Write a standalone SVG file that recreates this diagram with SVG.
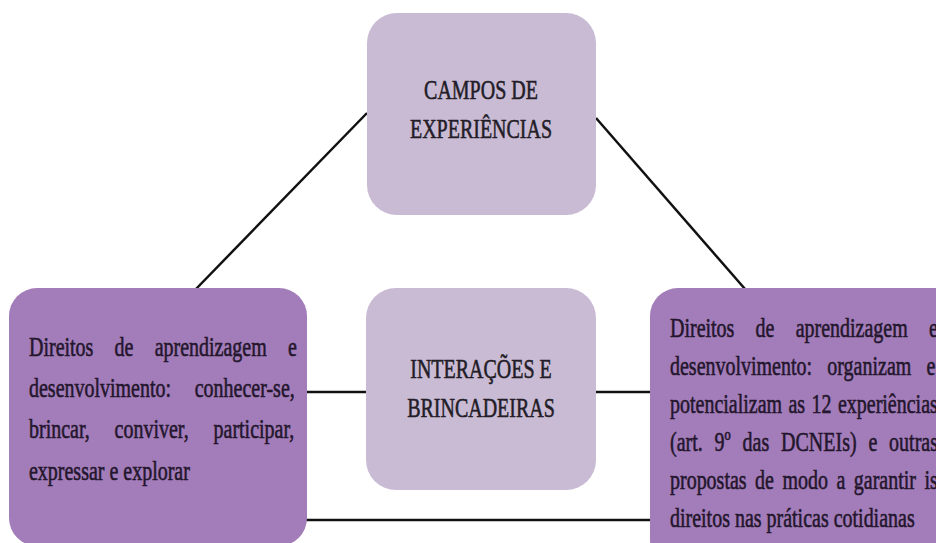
<svg xmlns="http://www.w3.org/2000/svg" width="936" height="543" viewBox="0 0 936 543">
  <style>
    .light { fill: #cabbd4; }
    .dark { fill: #a37dba; }
    .conn { stroke: #111111; stroke-width: 2.5; fill: none; }
    .t { font-family: "Liberation Serif", "Times New Roman", serif; font-size: 28px; fill: #24162d; stroke: #24162d; stroke-width: 0.6px; }
    .title { font-family: "Liberation Serif", "Times New Roman", serif; font-size: 28px; fill: #231d28; stroke: #231d28; stroke-width: 0.6px; text-anchor: middle; }
  </style>
  <rect x="0" y="0" width="936" height="543" fill="#ffffff"/>
  <g id="connectors">
    <line class="conn" x1="196" y1="289" x2="367" y2="113"/>
    <line class="conn" x1="596" y1="118" x2="745" y2="289"/>
    <line class="conn" x1="305" y1="392" x2="368" y2="392"/>
    <line class="conn" x1="595" y1="392" x2="652" y2="392"/>
    <line class="conn" x1="305" y1="520" x2="652" y2="520"/>
  </g>
  <g id="campos">
    <rect class="light" x="367" y="13" width="229" height="202" rx="30"/>
    <text class="title" transform="translate(481,99) scale(0.714,1)">CAMPOS DE</text>
    <text class="title" transform="translate(481,138) scale(0.714,1)">EXPERIÊNCIAS</text>
  </g>
  <g id="interacoes">
    <rect class="light" x="366" y="288" width="230" height="202" rx="30"/>
    <text class="title" transform="translate(481,378) scale(0.714,1)">INTERAÇÕES E</text>
    <text class="title" transform="translate(481,417) scale(0.714,1)">BRINCADEIRAS</text>
  </g>
  <g id="direitos-esq">
    <rect class="dark" x="9" y="288" width="298" height="258" rx="28"/>
    <text class="t" transform="translate(29,356) scale(0.714,1)" word-spacing="22.7">Direitos de aprendizagem e</text>
    <text class="t" transform="translate(29,397) scale(0.714,1)" word-spacing="26.2">desenvolvimento: conhecer-se,</text>
    <text class="t" transform="translate(29,438) scale(0.714,1)" word-spacing="27.8">brincar, conviver, participar,</text>
    <text class="t" transform="translate(29,480) scale(0.714,1)">expressar e explorar</text>
  </g>
  <g id="direitos-dir">
    <rect class="dark" x="650" y="288" width="320" height="280" rx="28"/>
    <text class="t" transform="translate(670,337) scale(0.714,1)" word-spacing="22.7">Direitos de aprendizagem e</text>
    <text class="t" transform="translate(670,375) scale(0.714,1)" word-spacing="14.4">desenvolvimento: organizam e</text>
    <text class="t" transform="translate(670,413) scale(0.714,1)" word-spacing="2">potencializam as 12 experiências</text>
    <text class="t" transform="translate(670,451) scale(0.714,1)" word-spacing="9.6">(art. 9º das DCNEIs) e outras</text>
    <text class="t" transform="translate(670,489) scale(0.714,1)" word-spacing="4.9">propostas de modo a garantir is</text>
    <text class="t" transform="translate(670,527) scale(0.714,1)">direitos nas práticas cotidianas</text>
  </g>
</svg>
